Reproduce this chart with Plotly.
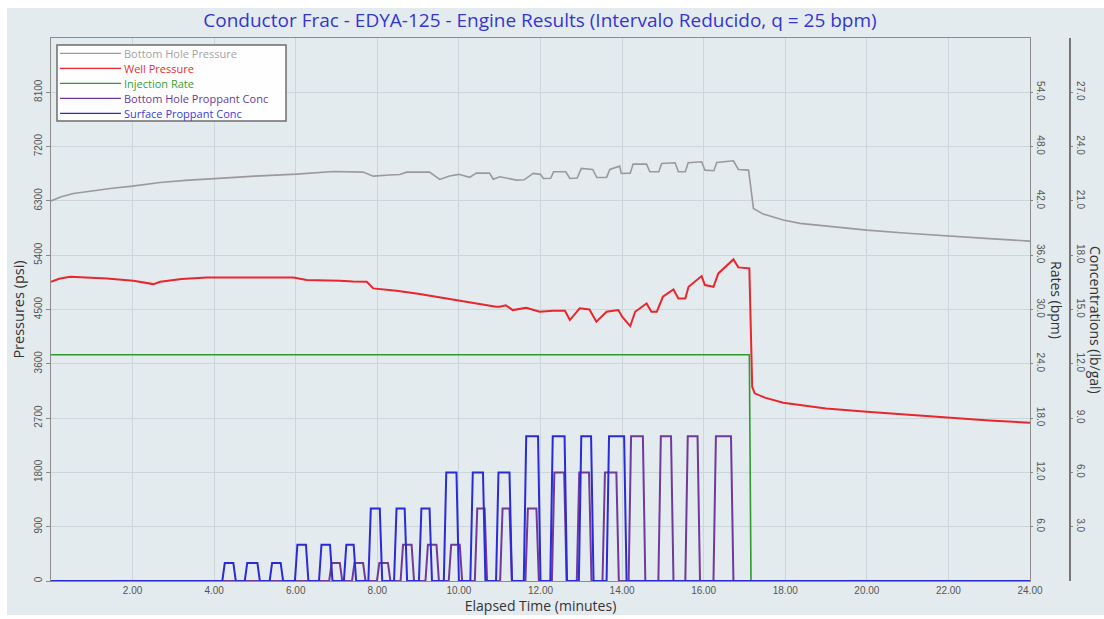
import plotly.graph_objects as go

# ---- Pressures (psi) vs elapsed time (minutes) ----
bhp_time = [0, 0.25, 0.55, 1.0, 1.5, 2.0, 2.67, 3.3, 4.0, 5.0, 6.02, 6.5, 6.92, 7.65,
            7.9, 8.3, 8.55, 8.72, 9.28, 9.53, 9.77, 10.0, 10.26, 10.43, 10.75, 10.84,
            11.0, 11.41, 11.6, 11.82, 12.0, 12.07, 12.25, 12.32, 12.62, 12.72, 12.9,
            13.0, 13.28, 13.38, 13.62, 13.7, 13.94, 13.98, 14.2, 14.27, 14.6, 14.68,
            14.9, 14.97, 15.3, 15.38, 15.55, 15.62, 15.95, 16.03, 16.25, 16.32, 16.73,
            16.85, 17.1, 17.16, 17.22, 17.46, 17.95, 18.36, 19.0, 20.0, 21.0, 21.96,
            23.0, 24.0]
bhp_psi = [6300, 6370, 6424, 6470, 6510, 6545, 6606, 6640, 6672, 6710, 6743, 6765, 6788, 6777,
           6710, 6730, 6738, 6777, 6777, 6656, 6712, 6740, 6690, 6760, 6760, 6660,
           6700, 6645, 6650, 6755, 6740, 6672, 6675, 6782, 6782, 6672, 6680,
           6838, 6821, 6688, 6690, 6821, 6876, 6755, 6760, 6910, 6910, 6782,
           6782, 6921, 6932, 6782, 6782, 6932, 6948, 6810, 6800, 6937, 6965,
           6821, 6810, 6500, 6175, 6081, 5982, 5927, 5880, 5816, 5765, 5717,
           5675, 5634]

well_time = [0, 0.2, 0.47, 1.0, 1.37, 2.02, 2.51, 2.68, 3.2, 3.82, 4.5, 5.2, 5.94, 6.27,
             6.7, 7.08, 7.4, 7.74, 7.9, 8.47, 9.0, 9.53, 9.9, 10.26, 10.6, 10.91, 11.0,
             11.15, 11.32, 11.65, 11.98, 12.3, 12.6, 12.72, 12.96, 13.2, 13.37, 13.62,
             13.91, 14.0, 14.2, 14.32, 14.6, 14.72, 14.85, 15.0, 15.26, 15.38, 15.55,
             15.63, 15.95, 16.03, 16.24, 16.36, 16.73, 16.85, 17.12, 17.16, 17.19,
             17.25, 17.5, 17.95, 18.5, 19.0, 20.0, 21.0, 21.96, 23.0, 24.0]
well_psi = [4960, 5010, 5042, 5030, 5015, 4976, 4921, 4960, 5005, 5032, 5035, 5030, 5032, 4988,
            4985, 4976, 4965, 4960, 4850, 4810, 4760, 4701, 4660, 4612, 4580, 4545, 4545,
            4570, 4490, 4530, 4462, 4480, 4480, 4325, 4519, 4500, 4298, 4462,
            4490, 4380, 4225, 4462, 4601, 4462, 4462, 4711, 4833, 4684, 4684,
            4877, 5054, 4905, 4877, 5098, 5330, 5198, 5182, 4000, 3220,
            3110, 3040, 2955, 2900, 2860, 2806, 2755, 2706, 2660, 2623]

# ---- Injection rate (bpm) ----
rate_time = [0, 17.12, 17.16, 24]
rate_bpm = [25, 25, 0, 0]

# ---- Proppant stages: start / end (minutes) and concentration (lb/gal) ----
surf_start = [4.20, 4.75, 5.36, 5.98, 6.57, 7.18, 7.78, 8.41, 9.02, 9.63, 10.28, 10.91,
              11.59, 12.24, 12.94, 13.62]
surf_end = [4.53, 5.12, 5.69, 6.31, 6.90, 7.48, 8.12, 8.73, 9.34, 10.00, 10.65, 11.30,
            12.00, 12.65, 13.30, 14.11]
surf_conc = [1, 1, 1, 2, 2, 2, 4, 4, 4, 6, 6, 6, 8, 8, 8, 8]

bh_start = [6.82, 7.38, 7.99, 8.57, 9.18, 9.75, 10.39, 11.01, 11.63, 12.28, 12.89, 13.52,
            14.16, 14.89, 15.55, 16.24]
bh_end = [7.14, 7.71, 8.32, 8.90, 9.51, 10.08, 10.69, 11.30, 11.96, 12.64, 13.25, 13.92,
          14.57, 15.26, 15.91, 16.73]
bh_conc = [1, 1, 1, 2, 2, 2, 4, 4, 4, 6, 6, 6, 8, 8, 8, 8]

# ---- Axis ticks ----
time_ticks = [2, 4, 6, 8, 10, 12, 14, 16, 18, 20, 22, 24]
time_tick_text = ["2.00", "4.00", "6.00", "8.00", "10.00", "12.00", "14.00", "16.00",
                  "18.00", "20.00", "22.00", "24.00"]
psi_ticks = [0, 900, 1800, 2700, 3600, 4500, 5400, 6300, 7200, 8100]
psi_tick_text = ["0", "900", "1800", "2700", "3600", "4500", "5400", "6300", "7200", "8100"]
rate_ticks = [6, 12, 18, 24, 30, 36, 42, 48, 54]
rate_tick_text = ["6.0", "12.0", "18.0", "24.0", "30.0", "36.0", "42.0", "48.0", "54.0"]
conc_ticks = [3, 6, 9, 12, 15, 18, 21, 24, 27]
conc_tick_text = ["3.0", "6.0", "9.0", "12.0", "15.0", "18.0", "21.0", "24.0", "27.0"]

T_END = 24
RAMP = 0.06  # rise/fall time of each stage edge


def stage_line(starts, ends, concs):
    xs, ys = [0], [0]
    for s, e, c in zip(starts, ends, concs):
        xs += [s, s + RAMP, e - RAMP, e]
        ys += [0, c, c, 0]
    xs.append(T_END)
    ys.append(0)
    return xs, ys


C_BHP = "#9a9a9a"
C_WELL = "#e8262c"
C_RATE = "#2e9a2e"
C_BH = "#6f3a9c"
C_SURF = "#2a2ad8"

FONT = "Open Sans"
TICK_FONT = dict(family="Liberation Sans", size=10, color="#555555")
AXIS_TITLE_COLOR = "#333333"

series = [
    ("Bottom Hole Pressure", C_BHP, "#a3a3a3"),
    ("Well Pressure", C_WELL, "#e53030"),
    ("Injection Rate", C_RATE, "#35a035"),
    ("Bottom Hole Proppant Conc", C_BH, "#6a3a9a"),
    ("Surface Proppant Conc", C_SURF, "#3b3be0"),
]

fig = go.Figure()

fig.add_trace(go.Scatter(
    x=bhp_time, y=bhp_psi, mode="lines", yaxis="y",
    line=dict(color=C_BHP, width=1.6), name=series[0][0]))
fig.add_trace(go.Scatter(
    x=well_time, y=well_psi, mode="lines", yaxis="y",
    line=dict(color=C_WELL, width=2), name=series[1][0]))
fig.add_trace(go.Scatter(
    x=rate_time, y=rate_bpm, mode="lines", yaxis="y2",
    line=dict(color=C_RATE, width=1.6), name=series[2][0]))

bx, by = stage_line(bh_start, bh_end, bh_conc)
fig.add_trace(go.Scatter(
    x=bx, y=by, mode="lines", yaxis="y3",
    line=dict(color=C_BH, width=2), name=series[3][0]))
sx, sy = stage_line(surf_start, surf_end, surf_conc)
fig.add_trace(go.Scatter(
    x=sx, y=sy, mode="lines", yaxis="y3",
    line=dict(color=C_SURF, width=2), name=series[4][0]))

L, R, T, B = 51, 34, 38, 38
W = 1104 - L - R
H = 619 - T - B
x_dom_end = 979 / W


def px_x(px):
    return (px - L) / W


def px_y(py):
    return (619 - B - py) / H


GRID = "#cbd6da"
BORDER = "#8c8c8c"

# Panel background behind the whole chart
shapes = [dict(
    type="rect", xref="paper", yref="paper", layer="below",
    x0=px_x(7), x1=px_x(1104), y0=px_y(615), y1=px_y(8),
    fillcolor="#e4ebef", line=dict(width=0))]

annotations = [
    dict(text="Rates (bpm)", textangle=90, showarrow=False,
         xref="paper", yref="paper", x=px_x(1057), y=px_y(300),
         xanchor="center", yanchor="middle",
         font=dict(family=FONT, size=14, color=AXIS_TITLE_COLOR)),
    dict(text="Concentrations (lb/gal)", textangle=90, showarrow=False,
         xref="paper", yref="paper", x=px_x(1096), y=px_y(320),
         xanchor="center", yanchor="middle",
         font=dict(family=FONT, size=14, color=AXIS_TITLE_COLOR)),
]

# Legend box: line sample + coloured label per series
shapes.append(dict(
    type="rect", xref="paper", yref="paper", layer="above",
    x0=px_x(57), x1=px_x(286), y0=px_y(121), y1=px_y(45),
    fillcolor="rgba(255,255,255,0.95)", line=dict(color="#6e6e6e", width=1.5)))
for i, (label, line_col, text_col) in enumerate(series):
    row_y = px_y(53.3 + 15 * i)
    shapes.append(dict(
        type="line", xref="paper", yref="paper", layer="above",
        x0=px_x(60), x1=px_x(121), y0=row_y, y1=row_y,
        line=dict(color=line_col, width=1.2)))
    annotations.append(dict(
        text=label, showarrow=False, xref="paper", yref="paper",
        x=px_x(122), y=row_y, xanchor="left", yanchor="middle",
        font=dict(family=FONT, size=11, color=text_col)))

fig.update_layout(
    width=1104, height=619,
    margin=dict(l=L, r=R, t=T, b=B),
    paper_bgcolor="#ffffff",
    plot_bgcolor="#f4f8fb",
    font=dict(family=FONT, color="#444444"),
    title=dict(
        text="Conductor Frac - EDYA-125 - Engine Results (Intervalo Reducido, q = 25 bpm)",
        font=dict(family=FONT, size=19, color="#3535d0"),
        xref="container", x=540 / 1104, xanchor="center",
        yref="container", y=1 - 20 / 619, yanchor="middle"),
    showlegend=False,
    xaxis=dict(
        domain=[0, x_dom_end], range=[0, 24],
        tickvals=time_ticks, ticktext=time_tick_text, tickfont=TICK_FONT,
        showgrid=True, gridcolor=GRID, gridwidth=1, zeroline=False,
        showline=True, linecolor=BORDER, mirror=True, ticks="",
        title=dict(text="Elapsed Time (minutes)",
                   font=dict(size=14, color=AXIS_TITLE_COLOR), standoff=2)),
    yaxis=dict(
        range=[0, 9000], tickvals=psi_ticks, ticktext=psi_tick_text,
        tickangle=-90, tickfont=TICK_FONT,
        showgrid=True, gridcolor=GRID, gridwidth=1, zeroline=False,
        showline=True, linecolor=BORDER, mirror=True,
        ticks="outside", ticklen=4, tickcolor="#888888",
        title=dict(text="Pressures (psi)",
                   font=dict(size=14.5, color=AXIS_TITLE_COLOR), standoff=4)),
    yaxis2=dict(
        overlaying="y", side="right", anchor="x", range=[0, 60],
        tickvals=rate_ticks, ticktext=rate_tick_text, tickangle=90, tickfont=TICK_FONT,
        showgrid=False, zeroline=False, showline=False,
        ticks="outside", ticklen=2, tickcolor="#888888"),
    yaxis3=dict(
        overlaying="y", side="right", anchor="free", position=1.0, range=[0, 30],
        tickvals=conc_ticks, ticktext=conc_tick_text, tickangle=90, tickfont=TICK_FONT,
        showgrid=False, zeroline=False, showline=True, linecolor="#777777", linewidth=1.5,
        ticks="outside", ticklen=2, tickcolor="#888888"),
    shapes=shapes,
    annotations=annotations,
)

fig.write_html("out.html")
